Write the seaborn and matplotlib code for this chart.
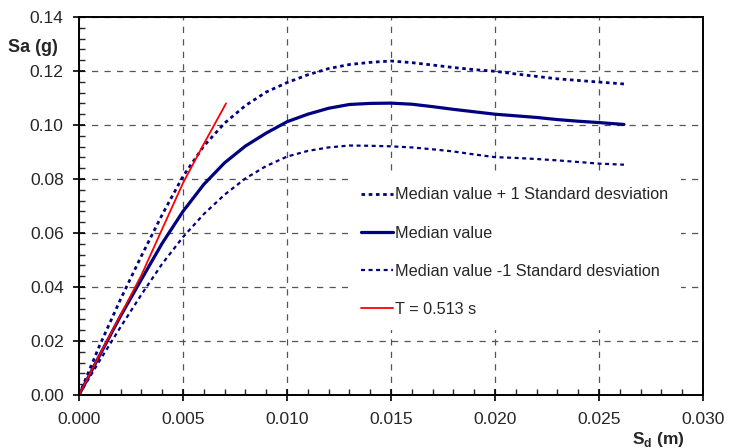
import numpy as np
import pandas as pd
import seaborn as sns
import matplotlib.pyplot as plt
from matplotlib.ticker import MultipleLocator, FormatStrFormatter

# Desplazamiento espectral Sd (m)
sd = [0.0, 0.001, 0.002, 0.003, 0.004, 0.005, 0.006, 0.007, 0.008, 0.009,
      0.010, 0.011, 0.012, 0.013, 0.014, 0.015, 0.016, 0.017, 0.018, 0.019,
      0.020, 0.021, 0.022, 0.023, 0.024, 0.025, 0.0262]

# Aceleracion espectral Sa (g)
sa_median = [0.0, 0.0148, 0.0293, 0.0428, 0.0562, 0.068, 0.078, 0.086, 0.0922, 0.097,
             0.1012, 0.104, 0.1062, 0.1076, 0.108, 0.1081, 0.1077, 0.1068, 0.1058, 0.1049,
             0.104, 0.1034, 0.1028, 0.102, 0.1014, 0.1009, 0.1002]
sa_plus = [0.0, 0.0185, 0.0355, 0.0515, 0.0668, 0.081, 0.0922, 0.1007, 0.1072, 0.1122,
           0.1157, 0.1186, 0.1209, 0.1224, 0.1232, 0.1237, 0.1231, 0.1222, 0.1213, 0.1205,
           0.1199, 0.1189, 0.118, 0.1171, 0.1165, 0.1159, 0.1152]
sa_minus = [0.0, 0.0128, 0.0252, 0.0372, 0.0486, 0.0585, 0.067, 0.0742, 0.0802, 0.0848,
            0.0883, 0.0904, 0.0917, 0.0924, 0.0923, 0.0921, 0.0917, 0.091, 0.0902, 0.0891,
            0.0881, 0.0878, 0.0874, 0.0869, 0.0863, 0.0857, 0.0853]

# Rama elastica T = 0.513 s
sd_t = [0.0, 0.001, 0.002, 0.003, 0.004, 0.005, 0.006, 0.00707]
sa_t = [0.0, 0.015, 0.0296, 0.0444, 0.0615, 0.0785, 0.093, 0.108]

df = pd.DataFrame({"Sd": sd, "mediana": sa_median, "mas": sa_plus, "menos": sa_minus})
df_t = pd.DataFrame({"Sd": sd_t, "Sa": sa_t})

sns.set_style("ticks")
plt.rcParams["font.family"] = ["Liberation Sans", "DejaVu Sans"]
plt.rcParams["mathtext.fontset"] = "custom"
plt.rcParams["mathtext.rm"] = "Liberation Sans"
plt.rcParams["mathtext.bf"] = "Liberation Sans:bold"

fig = plt.figure(figsize=(7.3, 4.48), dpi=100)
ax = fig.add_axes([79 / 730, 1 - 395 / 448, 624 / 730, 378 / 448])

navy = "#000080"
sns.lineplot(data=df, x="Sd", y="mas", ax=ax, color=navy, lw=2.0,
             linestyle=(0, (1.3, 1.3)), label="Median value + 1 Standard desviation")
sns.lineplot(data=df, x="Sd", y="mediana", ax=ax, color=navy, lw=2.3, label="Median value")
sns.lineplot(data=df, x="Sd", y="menos", ax=ax, color=navy, lw=1.6,
             linestyle=(0, (1.8, 1.6)), label="Median value -1 Standard desviation")
sns.lineplot(data=df_t, x="Sd", y="Sa", ax=ax, color="#ff0000", lw=1.3, label="T = 0.513 s")

ax.set_xlim(0, 0.030)
ax.set_ylim(0, 0.14)
ax.xaxis.set_major_locator(MultipleLocator(0.005))
ax.xaxis.set_minor_locator(MultipleLocator(0.001))
ax.yaxis.set_major_locator(MultipleLocator(0.02))
ax.yaxis.set_minor_locator(MultipleLocator(0.004))
ax.xaxis.set_major_formatter(FormatStrFormatter("%.3f"))
ax.yaxis.set_major_formatter(FormatStrFormatter("%.2f"))

ax.tick_params(which="major", direction="inout", length=8, width=1.2,
               labelsize=12.5, color="black", top=False, right=False)
ax.tick_params(axis="x", which="major", pad=8)
ax.tick_params(axis="y", which="major", pad=7)
ax.tick_params(which="minor", direction="in", length=4, width=1.0, top=False, right=False)

ax.grid(True, which="major", color="#555555", linestyle=(0, (5, 5)), linewidth=0.9)
for s in ax.spines.values():
    s.set_color("black")
    s.set_linewidth(1.4)

ax.set_xlabel("")
ax.set_ylabel("")
ax.text(-0.114, 0.918, "Sa (g)", transform=ax.transAxes, fontsize=13, fontweight="bold",
        ha="left", va="center")
ax.text(0.886, -0.119, r"$\mathbf{S}_\mathbf{d}$ (m)", transform=ax.transAxes, fontsize=12.5,
        fontweight="bold", ha="left", va="center")

leg = ax.legend(loc="upper left", bbox_to_anchor=(0.418, 0.605), fontsize=11.7,
                frameon=True, facecolor="white", edgecolor="none", framealpha=1,
                fancybox=False, labelspacing=1.42, handlelength=2.0, handletextpad=0.1,
                borderpad=0.8)

fig.savefig("out.png", dpi=100)
